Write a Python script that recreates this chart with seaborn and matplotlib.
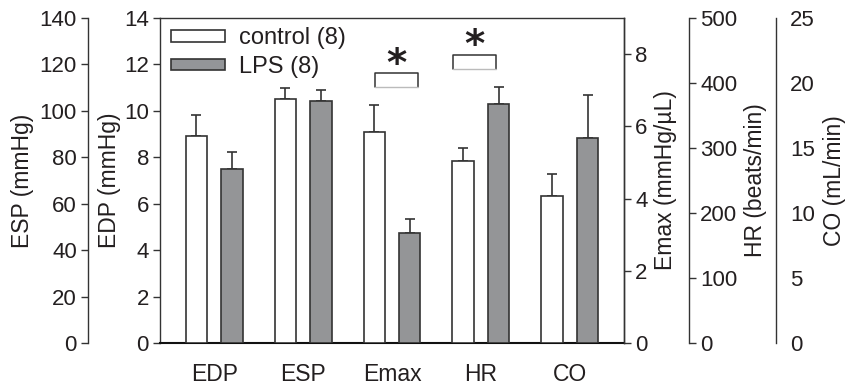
import numpy as np
import pandas as pd
import matplotlib
matplotlib.use("Agg")
import matplotlib.pyplot as plt
import seaborn as sns
from matplotlib.patches import Patch

sns.set_theme(style="white")
plt.rcParams['font.family'] = ['Liberation Sans', 'DejaVu Sans']

# ---------------- data ----------------
categories = ["EDP", "ESP", "Emax", "HR", "CO"]
groups = ["control (8)", "LPS (8)"]
control_mean = [8.93, 105.2, 5.85, 279.5, 11.33]
control_err = [0.90, 4.5, 0.75, 21.0, 1.70]
lps_mean = [7.48, 104.1, 3.04, 367.7, 15.75]
lps_err = [0.76, 5.0, 0.40, 26.0, 3.30]
# maximum of the axis each category is read on
axis_max = [14, 140, 9, 500, 25]

esp_ticks = [0, 20, 40, 60, 80, 100, 120, 140]
edp_ticks = [0, 2, 4, 6, 8, 10, 12, 14]
emax_ticks = [0, 2, 4, 6, 8]
hr_ticks = [0, 100, 200, 300, 400, 500]
co_ticks = [0, 5, 10, 15, 20, 25]

# significance markers: (x0, x1, y_bottom, y_top) in main-axis units
sig_emax = [1.805, 2.289, 11.01, 11.62]
sig_hr = [2.69, 3.17, 11.82, 12.41]

TXT = "#231f20"
EDGE = "#333333"
GREY = "#939598"
FS = 16

scale = [14 / m for m in axis_max]
rows = []
for i, c in enumerate(categories):
    rows.append(dict(cat=c, grp=groups[0], val=control_mean[i] * scale[i], err=control_err[i] * scale[i]))
    rows.append(dict(cat=c, grp=groups[1], val=lps_mean[i] * scale[i], err=lps_err[i] * scale[i]))
df = pd.DataFrame(rows)

fig = plt.figure(figsize=(8.48, 3.88), dpi=100)
ax = fig.add_axes([160 / 848, 45 / 388, 464 / 848, 325 / 388])

sns.barplot(data=df, x="cat", y="val", hue="grp", order=categories, hue_order=groups,
            palette=["white", GREY], edgecolor=EDGE, linewidth=1.2, width=0.8, gap=0.4,
            errorbar=None, legend=False, ax=ax, zorder=3)

xpos = np.arange(len(categories))
for k, g in enumerate(groups):
    sub = df[df.grp == g]
    ax.errorbar(xpos + (-0.2 if k == 0 else 0.2), sub.val.values,
                yerr=[np.zeros(len(sub)), sub.err.values], fmt="none",
                ecolor=EDGE, elinewidth=1.2, capsize=3.6, capthick=1.2, zorder=2)

ax.set_xlim(-0.61, 4.61)
ax.set_ylim(0, 14)
ax.set_yticks(edp_ticks)
ax.set_xlabel("")
ax.set_ylabel("EDP (mmHg)", fontsize=FS + 0.5, color=TXT, labelpad=2)
ax.tick_params(axis="y", left=True, direction="out", length=5, width=1, color=EDGE,
               labelsize=FS, labelcolor=TXT, pad=3)
ax.tick_params(axis="x", bottom=False, labelsize=FS + 0.5, labelcolor=TXT, pad=8.5)
for s in ax.spines.values():
    s.set_color(EDGE)
    s.set_linewidth(1.0)
ax.spines["bottom"].set_color("#111111")
ax.spines["bottom"].set_linewidth(1.5)

# significance brackets
for (x0, x1, yb, yt) in [sig_emax, sig_hr]:
    ax.plot([x0, x0, x1, x1], [yb, yt, yt, yb], color=EDGE, lw=1.1, zorder=4)
    ax.plot([x0, x1], [yb, yb], color="#bbbbbb", lw=1.0, zorder=4)
    ax.text((x0 + x1) / 2, yt - 0.1, "*", ha="center", va="baseline", fontsize=28,
            fontweight="bold", color=TXT, family=["DejaVu Sans"])

handles = [Patch(facecolor="white", edgecolor=EDGE, linewidth=1.2),
           Patch(facecolor=GREY, edgecolor=EDGE, linewidth=1.2)]
ax.legend(handles, groups, loc="upper left", bbox_to_anchor=(-0.007, 1.015), frameon=False,
          fontsize=FS + 1, handlelength=2.3, handleheight=0.4, handletextpad=0.6,
          labelspacing=0.28, borderaxespad=0.2, labelcolor=TXT)

def make_twin(ylim, ticks, label, side, pos, ticklen=5, labelpad=2):
    t = ax.twinx()
    t.set_ylim(*ylim)
    t.set_yticks(ticks)
    for s in ["top", "bottom"]:
        t.spines[s].set_visible(False)
    other = "right" if side == "left" else "left"
    t.spines[other].set_visible(False)
    t.spines[side].set_position(("axes", pos))
    t.spines[side].set_color(EDGE)
    t.spines[side].set_linewidth(1.0)
    t.yaxis.set_ticks_position(side)
    t.yaxis.set_label_position(side)
    t.tick_params(axis="y", direction="out", length=ticklen, width=1, color=EDGE,
                  labelsize=FS, labelcolor=TXT, pad=3 if ticklen else 10)
    t.set_ylabel(label, fontsize=FS + 0.5, color=TXT, labelpad=labelpad)
    t.grid(False)
    return t

make_twin((0, 140), esp_ticks, "ESP (mmHg)", "left", -72 / 464, labelpad=4)
make_twin((0, 9), emax_ticks, "Emax (mmHg/\u00b5L)", "right", 1.0, labelpad=5)
make_twin((0, 500), hr_ticks, "HR (beats/min)", "right", (689 - 160) / 464, labelpad=5)
make_twin((0, 25), co_ticks, "CO (mL/min)", "right", (776 - 160) / 464, ticklen=0, labelpad=6)

fig.savefig("out.png", dpi=100)
